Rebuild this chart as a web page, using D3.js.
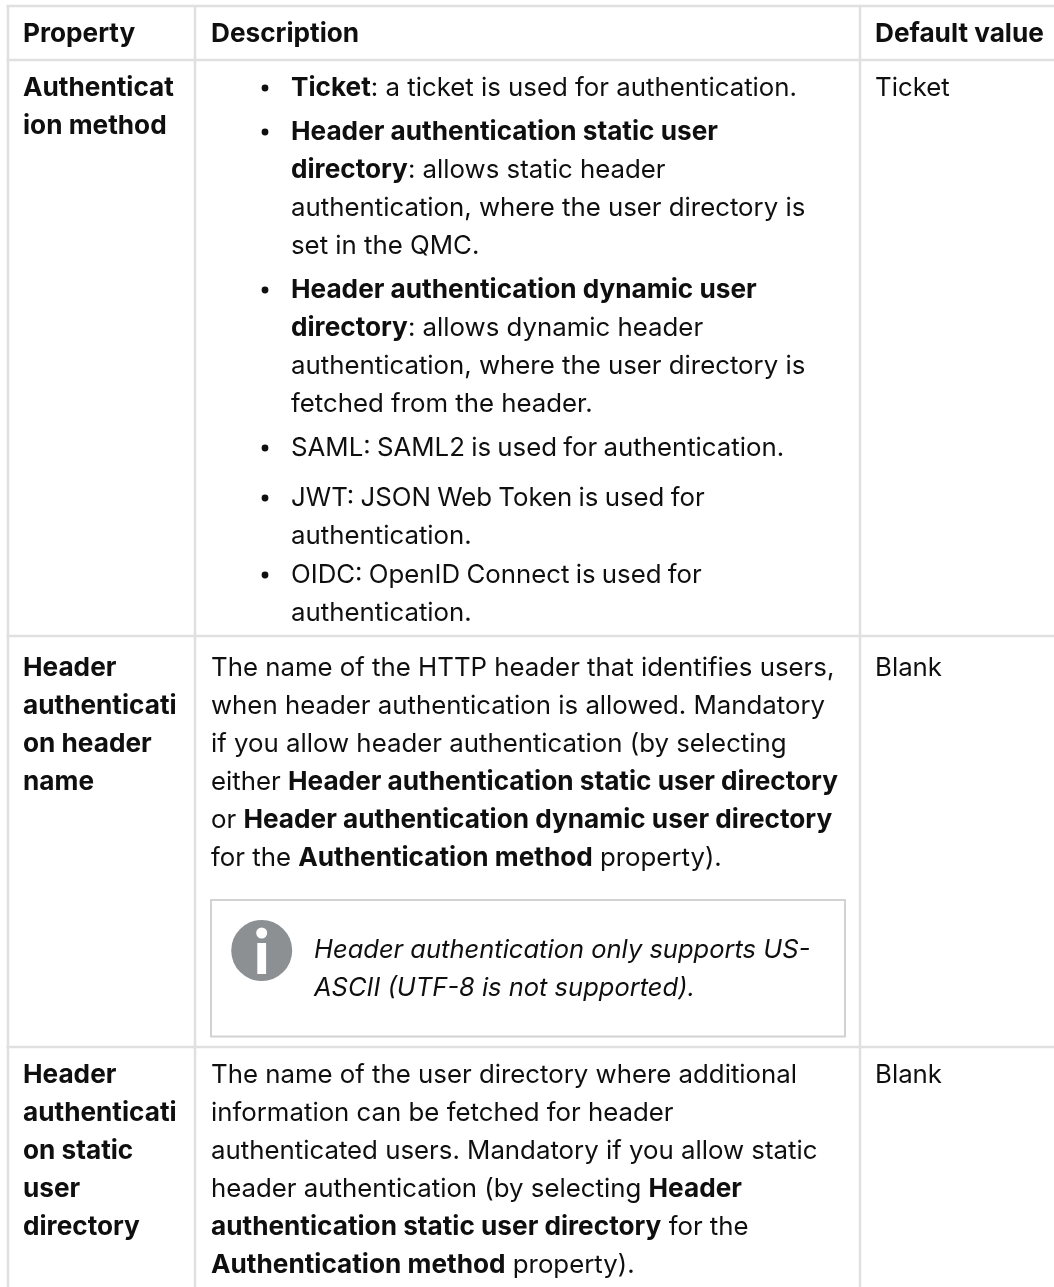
<!doctype html>
<html>
  <head>
    <meta charset="utf-8">
    <title>Table</title>
    <script src="https://cdn.jsdelivr.net/npm/d3@7"></script>
    <style>
      html, body { margin: 0; padding: 0; background: #fff; }
      svg { display: block; filter: blur(0.25px); }
      text { font-family: Inter, "Noto Sans", sans-serif; font-size: 25.8px; fill: #0f0f0f; }
      .b { font-weight: 700; font-size: 26.2px; }
      .note { font-style: italic; font-size: 25.5px; }
    </style>
  </head>
  <body>
    <svg id="chart" width="1054" height="1287"></svg>
<script>
// table content, ** marks bold runs
var headers = ["Property", "Description", "Default value"];
var properties = [
  ["Authenticat", "ion method"],
  ["Header", "authenticati", "on header", "name"],
  ["Header", "authenticati", "on static", "user", "directory"]
];
var defaults = ["Ticket", "Blank", "Blank"];
var methodItems = [
  ["**Ticket**: a ticket is used for authentication."],
  ["**Header authentication static user**", "**directory**: allows static header", "authentication, where the user directory is", "set in the QMC."],
  ["**Header authentication dynamic user**", "**directory**: allows dynamic header", "authentication, where the user directory is", "fetched from the header."],
  ["SAML: SAML2 is used for authentication."],
  ["JWT: JSON Web Token is used for", "authentication."],
  ["OIDC: OpenID Connect is used for", "authentication."]
];
var headerNameLines = [
  "The name of the HTTP header that identifies users,",
  "when header authentication is allowed. Mandatory",
  "if you allow header authentication (by selecting",
  "either **Header authentication static user directory**",
  "or **Header authentication dynamic user directory**",
  "for the **Authentication method** property)."
];
var noteLines = ["Header authentication only supports US-", "ASCII (UTF-8 is not supported)."];
var userDirLines = [
  "The name of the user directory where additional",
  "information can be fetched for header",
  "authenticated users. Mandatory if you allow static",
  "header authentication (by selecting **Header**",
  "**authentication static user directory** for the",
  "**Authentication method** property)."
];

var svg = d3.select("#chart");
var width = 1054, height = 1287;
var lineH = 38, baseOff = 9;
var colX = [8, 195, 860, width], textX = [23, 211, 875];
var rowY = [6, 60, 636, 1047, height];
var rowFirst = [87, 667, 1074];
var itemGaps = [6, 6, 6, 12, 1];

var grid = "#e0e0e0";

// grid lines
svg.selectAll("line.h").data(rowY.slice(0, 4)).join("line")
  .attr("class", "h").attr("x1", colX[0] - 1.5).attr("x2", width)
  .attr("y1", d => d).attr("y2", d => d)
  .attr("stroke", grid).attr("stroke-width", 2.5);
svg.selectAll("line.v").data(colX.slice(0, 3)).join("line")
  .attr("class", "v").attr("y1", rowY[0]).attr("y2", height)
  .attr("x1", d => d).attr("x2", d => d)
  .attr("stroke", grid).attr("stroke-width", 2.5);

// split "**a** b" into runs and draw as tspans
function runs(s) {
  return s.split("**").map((t, i) => ({ t: t, bold: i % 2 === 1 })).filter(r => r.t);
}
function put(x, y, s, cls) {
  var t = svg.append("text").attr("x", x).attr("y", y + baseOff);
  if (cls) t.attr("class", cls);
  // capitals-heavy lines run a little narrower in the source
  if (/^[A-Z]+:/.test(s)) t.style("word-spacing", "-1px");
  t.selectAll("tspan").data(runs(s)).join("tspan")
    .classed("b", d => d.bold).text(d => d.t);
  return t;
}

// header row
headers.forEach((h, i) => put(textX[i], 33, "**" + h + "**"));

// property + default columns
properties.forEach((lines, r) => {
  lines.forEach((l, i) => put(textX[0], rowFirst[r] + i * lineH, "**" + l + "**"));
  put(textX[2], rowFirst[r], defaults[r]);
});

// first row bullet list
var y = rowFirst[0];
methodItems.forEach((item, i) => {
  svg.append("circle").attr("cx", 265).attr("cy", y + 1).attr("r", 3.4).attr("fill", "#0f0f0f");
  item.forEach(l => { put(291, y, l); y += lineH; });
  if (i < itemGaps.length) y += itemGaps[i];
});

// second row text
headerNameLines.forEach((l, i) => put(textX[1], rowFirst[1] + i * lineH, l));

// note box
svg.append("rect").attr("x", 211).attr("y", 900).attr("width", 634).attr("height", 136.5)
  .attr("fill", "none").attr("stroke", "#d2d2d2").attr("stroke-width", 2);
svg.append("circle").attr("cx", 261.7).attr("cy", 950.5).attr("r", 30.5).attr("fill", "#8c9092");
svg.append("circle").attr("cx", 261.7).attr("cy", 933).attr("r", 5.5).attr("fill", "#fff");
svg.append("rect").attr("x", 257.3).attr("y", 943).attr("width", 8.8).attr("height", 31).attr("fill", "#fff");
noteLines.forEach((l, i) => put(314, 949 + i * lineH, l, "note"));

// third row text
userDirLines.forEach((l, i) => put(textX[1], rowFirst[2] + i * lineH, l));
</script>
  </body>
</html>
